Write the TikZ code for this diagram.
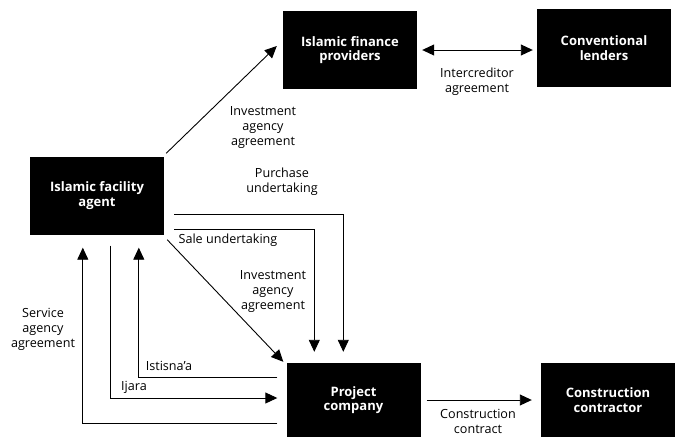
\documentclass[tikz,border=0pt]{standalone}
\usepackage{fontspec}
\setmainfont{Open Sans}
\usepackage{tikz}
\usetikzlibrary{arrows.meta,positioning}
\tikzset{%
  arr/.style = {-{Triangle[length=12pt,width=11pt]},line width=0.9pt},
  dblarr/.style = {{Triangle[length=12pt,width=11pt]}-{Triangle[length=12pt,width=11pt]},line width=0.9pt},
  party/.style = {rectangle,fill=black,text=white,font=\fontsize{13}{14.5}\selectfont\bfseries,
        align=center,minimum width=134pt,minimum height=78pt,inner sep=0pt},
  lbl/.style = {align=center,inner sep=0pt}
}

\begin{document}
\begin{tikzpicture}[x=1pt,y=-1pt,
every node/.style={font=\fontsize{12.6}{15}\selectfont},
]
\useasboundingbox (0,0) rectangle (678,437);
% parties
\node[party] (ifp) at (350,50) {Islamic finance\\providers};
\node[party] (cl) at (604,48) {Conventional\\lenders};
\node[party] (ifa) at (97,195.5) {Islamic facility\\agent};
\node[party,minimum height=74pt] (pc) at (353.5,400) {Project\\company};
\node[party,minimum height=74pt] (cc) at (608,400) {Construction\\contractor};

% agreements
\draw[arr] ([shift={(2,-3)}]ifa.north east) -- ([shift={(-6,-4)}]ifp.west);
\draw[dblarr,shorten <=5pt,shorten >=4pt] (ifp.east) -- (ifp.east -| cl.west);
\draw[arr] ([shift={(10,-20)}]ifa.south east) -| ([shift={(57,-11)}]pc.north west);
\draw[arr] ([shift={(10,-5)}]ifa.south east) -| ([shift={(28,-11)}]pc.north west);
\draw[arr] ([shift={(3,5)}]ifa.south east) -- ([shift={(-3,-1)}]pc.north west);
\draw[arr] ([shift={(-9,-14)}]pc.south west) -| ([shift={(53,13)}]ifa.south west);
\draw[arr] ([shift={(-9,15)}]pc.north west) -| ([shift={(109,13)}]ifa.south west);
\draw[arr] ([shift={(81,11)}]ifa.south west) |- ([shift={(-9,-2)}]pc.west);
\draw[arr] ([xshift=6pt]pc.east) -- ([xshift=-9pt]cc.west);

% labels
\node[lbl] (l1) at (263,128) {Investment\\agency\\agreement};
\node[lbl] (l2) at (477,82) {Intercreditor\\agreement};
\node[lbl] (l3) at (282,182) {Purchase\\undertaking};
\node[lbl] (l4) at (228,240) {Sale undertaking};
\node[lbl] (l5) at (273,292) {Investment\\agency\\agreement};
\node[lbl] (l6) at (43,329) {Service\\agency\\agreement};
\node[lbl] (l7) at (169,366) {Istisna’a};
\node[lbl] (l8) at (134,387) {Ijara};
\node[lbl] (l9) at (478,421) {Construction\\contract};
\end{tikzpicture}
\end{document}
